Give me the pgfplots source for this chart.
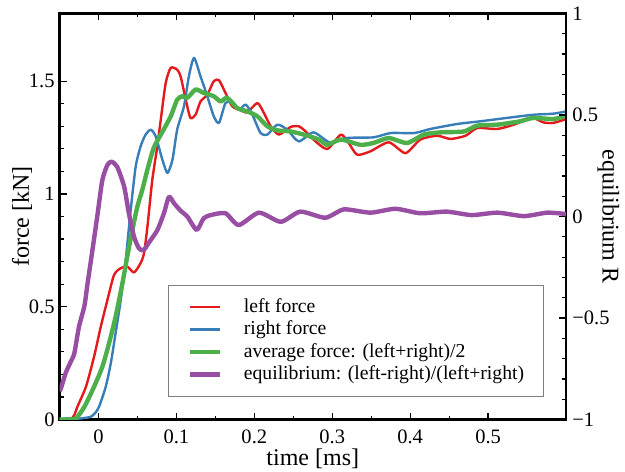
\documentclass[border=0pt]{standalone}
\usepackage{fontspec}
\setmainfont{Liberation Serif}
\usepackage{pgfplots}
\pgfplotsset{compat=1.18}
\definecolor{cred}{RGB}{228,26,28}
\definecolor{cblue}{RGB}{55,126,184}
\definecolor{cgreen}{RGB}{77,175,74}
\definecolor{cpurple}{RGB}{152,78,163}
\begin{document}
\begin{tikzpicture}
\pgfplotsset{
  common/.style={
    scale only axis, width=253.25pt, height=203pt,
    xmin=-0.05, xmax=0.6,
    tick align=inside, major tick length=3.5pt, minor tick length=2pt,
    every tick/.style={black, line width=0.6pt},
    axis line style={line width=1.2pt},
    /pgf/number format/assume math mode=true,
    tick label style={font=\fontsize{10.25}{12}\selectfont},
    label style={font=\fontsize{12}{14}\selectfont},
  }
}
\begin{axis}[common, name=main,
  ymin=0, ymax=1.8,
  xtick={0,0.1,0.2,0.3,0.4,0.5}, minor x tick num=1,
  ytick={0,0.5,1,1.5}, minor y tick num=4,
  ytick pos=left, xtick pos=both, xticklabel pos=lower,
  xticklabel style={inner sep=0pt, yshift=-5pt},
  yticklabel style={inner sep=0pt, xshift=-2.25pt},
  xlabel={time [ms]}, ylabel={force [kN]},
  xlabel style={at={(axis description cs:0.5,-0.0973)}, anchor=center},
  ylabel style={at={(axis description cs:-0.074,0.5)}, anchor=center},
  legend cell align=left,
  legend image code/.code={\draw[#1] (0pt,0pt) -- (15.2pt,0pt);},
  legend style={at={(axis description cs:0.2137,0.056)}, anchor=south west,
    draw=gray, line width=0.5pt, fill=white,
    font=\fontsize{9.85}{11}\selectfont,
    inner xsep=9.6pt, inner ysep=6.3pt, row sep=2.25pt,
    nodes={inner sep=0pt, text height=7pt, text depth=2pt},
    /tikz/every odd column/.append style={column sep=10.8pt}},
  every axis plot/.append style={line join=round, smooth, tension=0.4},
]
\addplot[cred, line width=1.2pt] coordinates {
(-0.05,0) (-0.036,0) (-0.031,0.02) (-0.027,0.057) (-0.016,0.146) (-0.0056,0.279)
(0.003,0.412) (0.0115,0.53) (0.020,0.641) (0.0286,0.671) (0.037,0.678) (0.0456,0.652)
(0.054,0.693) (0.0585,0.738) (0.063,0.86) (0.069,1.06) (0.075,1.2) (0.080,1.33)
(0.0863,1.492) (0.0927,1.559) (0.101,1.551) (0.1055,1.52) (0.112,1.418) (0.118,1.337)
(0.1247,1.352) (0.131,1.41) (0.1397,1.44) (0.148,1.5) (0.1547,1.504) (0.163,1.448)
(0.1718,1.388) (0.1824,1.371) (0.191,1.362) (0.204,1.403) (0.2123,1.359) (0.221,1.30)
(0.2316,1.263) (0.2465,1.297) (0.257,1.30) (0.266,1.277) (0.276,1.241) (0.2935,1.199)
(0.311,1.263) (0.321,1.226) (0.332,1.174) (0.349,1.189) (0.3726,1.229) (0.394,1.181)
(0.413,1.241) (0.4346,1.258) (0.4517,1.244) (0.471,1.258) (0.486,1.292) (0.5115,1.288)
(0.533,1.307) (0.5564,1.337) (0.5713,1.317) (0.584,1.315) (0.6,1.332)
};
\addlegendentry{left force}
\addplot[cblue, line width=1.2pt] coordinates {
(-0.05,0) (-0.04,0.005) (-0.03,0.002) (-0.02,0.006) (-0.0099,0.012) (-0.004,0.03)
(0.0008,0.057) (0.0094,0.146) (0.0158,0.249) (0.022,0.383) (0.0286,0.53) (0.035,0.708)
(0.0414,0.93) (0.0478,1.122) (0.054,1.21) (0.06,1.26) (0.067,1.285) (0.0735,1.255)
(0.082,1.152) (0.0885,1.093) (0.095,1.152) (0.101,1.285) (0.1097,1.388) (0.116,1.521)
(0.1226,1.603) (0.131,1.521) (0.1397,1.433) (0.148,1.344) (0.1547,1.315) (0.163,1.403)
(0.1718,1.41) (0.18,1.374) (0.189,1.396) (0.1974,1.352) (0.208,1.27) (0.2167,1.263)
(0.2295,1.307) (0.2423,1.285) (0.257,1.233) (0.276,1.273) (0.298,1.226) (0.319,1.248)
(0.353,1.251) (0.375,1.27) (0.405,1.27) (0.426,1.288) (0.460,1.31) (0.490,1.322)
(0.524,1.337) (0.558,1.351) (0.584,1.356) (0.6,1.366)
};
\addlegendentry{right force}
\addplot[cgreen, line width=2.2pt] coordinates {
(-0.05,0) (-0.03,0.003) (-0.018,0.057) (-0.0056,0.146) (0.005,0.234) (0.0136,0.338)
(0.022,0.456) (0.0308,0.605) (0.037,0.723) (0.0436,0.841) (0.050,0.945) (0.0564,1.02)
(0.063,1.11) (0.071,1.205) (0.082,1.275) (0.0927,1.344) (0.101,1.418) (0.1077,1.433)
(0.114,1.426) (0.1247,1.463) (0.135,1.448) (0.148,1.433) (0.1568,1.41) (0.1654,1.426)
(0.178,1.381) (0.191,1.366) (0.204,1.344) (0.2167,1.30) (0.2295,1.282) (0.2465,1.277)
(0.2636,1.263) (0.283,1.241) (0.2935,1.218) (0.311,1.241) (0.336,1.218) (0.353,1.226)
(0.3726,1.248) (0.396,1.226) (0.4175,1.263) (0.439,1.273) (0.469,1.277) (0.486,1.303)
(0.5115,1.307) (0.541,1.322) (0.558,1.337) (0.584,1.332) (0.6,1.347)
};
\addlegendentry{average force: (left+right)/2}
\addlegendimage{cpurple, line width=2.2pt}
\addlegendentry{equilibrium: (left-right)/(left+right)}
\end{axis}
\begin{axis}[common,
  ymin=-1, ymax=1,
  axis y line*=right, axis x line=none,
  ytick={-1,-0.5,0,0.5,1}, yticklabels={−1,−0.5,0,0.5,1}, minor y tick num=4,
  yticklabel style={inner sep=0pt, xshift=3pt},
  ylabel={equilibrium R},
  ylabel style={at={(axis description cs:1.0835,0.5)}, anchor=center, rotate=180},
  every axis plot/.append style={line join=round, smooth, tension=0.4},
]
\addplot[cpurple, line width=2.2pt] coordinates {
(-0.05,-0.86) (-0.048,-0.845) (-0.042,-0.77) (-0.0355,-0.715) (-0.031,-0.674) (-0.025,-0.543)
(-0.018,-0.44) (-0.014,-0.33) (-0.0077,-0.165) (-0.001,0.016) (0.005,0.18) (0.0115,0.254)
(0.0167,0.27) (0.024,0.245) (0.033,0.147) (0.039,0.016) (0.0457,-0.10) (0.052,-0.157)
(0.058,-0.165) (0.067,-0.116) (0.0757,-0.066) (0.084,0.016) (0.0905,0.097) (0.097,0.065)
(0.1055,0.028) (0.114,0) (0.126,-0.066) (0.135,-0.009) (0.144,0.007) (0.163,0.016)
(0.180,-0.042) (0.206,0.019) (0.234,-0.026) (0.259,0.024) (0.291,-0.006) (0.315,0.035)
(0.349,0.019) (0.381,0.038) (0.413,0.016) (0.447,0.024) (0.479,0.007) (0.512,0.019)
(0.546,0.002) (0.576,0.019) (0.6,0.012)
};
\end{axis}
\pgfresetboundingbox
\path ([shift={(-29.75pt,-25.75pt)}]main.south west) rectangle ([shift={(29.5pt,6.75pt)}]main.north east);
\end{tikzpicture}
\end{document}
